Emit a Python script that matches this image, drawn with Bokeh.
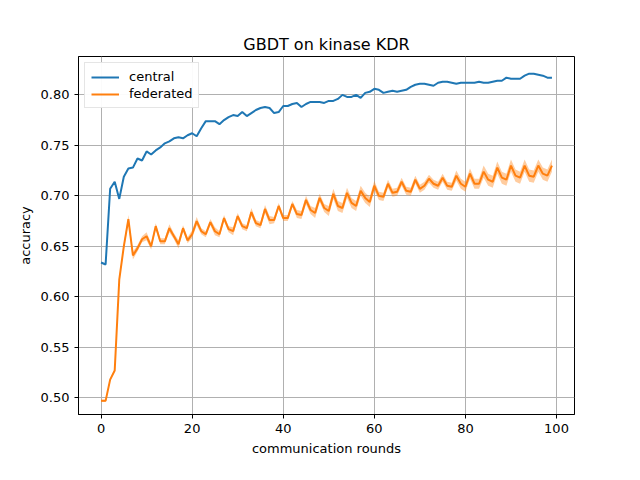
from bokeh.plotting import figure
from bokeh.models import Range1d, Legend, LegendItem, FixedTicker, CustomJSTickFormatter
from bokeh.embed import file_html
from bokeh.resources import INLINE

rounds = list(range(100))

central = [0.634, 0.632, 0.707, 0.714, 0.697, 0.719, 0.727, 0.728, 0.737, 0.735,
           0.744, 0.741, 0.745, 0.748, 0.752, 0.754, 0.757, 0.758, 0.757, 0.760,
           0.762, 0.759, 0.767, 0.774, 0.774, 0.774, 0.771, 0.775, 0.778, 0.780,
           0.779, 0.783, 0.779, 0.782, 0.785, 0.787, 0.788, 0.787, 0.782, 0.783,
           0.789, 0.789, 0.791, 0.792, 0.788, 0.791, 0.793, 0.793, 0.793, 0.792,
           0.794, 0.794, 0.796, 0.800, 0.798, 0.798, 0.800, 0.797, 0.802, 0.803,
           0.806, 0.805, 0.802, 0.803, 0.804, 0.803, 0.804, 0.805, 0.808, 0.810,
           0.811, 0.811, 0.810, 0.809, 0.812, 0.813, 0.813, 0.812, 0.811, 0.812,
           0.812, 0.812, 0.812, 0.813, 0.812, 0.812, 0.813, 0.814, 0.814, 0.817,
           0.816, 0.816, 0.816, 0.819, 0.821, 0.821, 0.820, 0.819, 0.817, 0.817]

federated = [0.497, 0.497, 0.518, 0.527, 0.617, 0.650, 0.677, 0.641, 0.648, 0.657,
             0.660, 0.650, 0.670, 0.655, 0.655, 0.668, 0.660, 0.652, 0.668, 0.656,
             0.662, 0.675, 0.665, 0.662, 0.674, 0.665, 0.662, 0.678, 0.667, 0.665,
             0.680, 0.670, 0.668, 0.684, 0.673, 0.671, 0.687, 0.676, 0.676, 0.690,
             0.678, 0.678, 0.692, 0.682, 0.681, 0.696, 0.686, 0.683, 0.698, 0.688,
             0.685, 0.702, 0.690, 0.688, 0.703, 0.693, 0.690, 0.705, 0.698, 0.694,
             0.710, 0.700, 0.699, 0.712, 0.703, 0.704, 0.714, 0.705, 0.704, 0.716,
             0.707, 0.710, 0.717, 0.712, 0.710, 0.718, 0.710, 0.709, 0.720, 0.712,
             0.709, 0.722, 0.712, 0.712, 0.724, 0.716, 0.714, 0.728, 0.718, 0.716,
             0.730, 0.720, 0.718, 0.730, 0.720, 0.719, 0.730, 0.722, 0.720, 0.730]

fed_std = [0.001, 0.001, 0.001, 0.001, 0.002, 0.003, 0.004, 0.004, 0.003, 0.003,
           0.004, 0.003, 0.003, 0.003, 0.003, 0.004, 0.003, 0.004, 0.003, 0.003,
           0.004, 0.004, 0.003, 0.003, 0.003, 0.004, 0.003, 0.003, 0.003, 0.004,
           0.003, 0.003, 0.003, 0.004, 0.003, 0.003, 0.004, 0.004, 0.003, 0.003,
           0.003, 0.003, 0.003, 0.004, 0.004, 0.004, 0.004, 0.005, 0.004, 0.004,
           0.005, 0.005, 0.005, 0.005, 0.005, 0.005, 0.005, 0.005, 0.005, 0.005,
           0.005, 0.004, 0.004, 0.004, 0.004, 0.004, 0.004, 0.004, 0.004, 0.004,
           0.004, 0.004, 0.004, 0.004, 0.004, 0.004, 0.004, 0.004, 0.005, 0.005,
           0.005, 0.005, 0.005, 0.005, 0.006, 0.006, 0.006, 0.006, 0.006, 0.006,
           0.006, 0.006, 0.006, 0.006, 0.006, 0.006, 0.006, 0.006, 0.006, 0.006]

fed_lo = [f - s for f, s in zip(federated, fed_std)]
fed_hi = [f + s for f, s in zip(federated, fed_std)]

p = figure(width=624, height=464, output_backend="svg", toolbar_location=None,
           x_range=Range1d(-4.95, 103.95), y_range=Range1d(0.4835, 0.838),
           title="GBDT on kinase KDR",
           min_border_left=78, min_border_right=50, min_border_top=56, min_border_bottom=50)

p.title.align = "center"
p.title.text_font = "DejaVu Sans"
p.title.text_font_size = "16px"
p.title.text_font_style = "normal"
p.title.text_color = "black"
p.title.standoff = 6

p.varea(x=rounds, y1=fed_lo, y2=fed_hi, fill_color="#ff7f0e", fill_alpha=0.4)
c = p.line(rounds, central, line_color="#1f77b4", line_width=2)
f = p.line(rounds, federated, line_color="#ff7f0e", line_width=2)

p.xaxis.ticker = FixedTicker(ticks=[0, 20, 40, 60, 80, 100])
p.yaxis.ticker = FixedTicker(ticks=[0.50, 0.55, 0.60, 0.65, 0.70, 0.75, 0.80])
p.yaxis.formatter = CustomJSTickFormatter(code="return tick.toFixed(2)")
p.xaxis.axis_label = "communication rounds"
p.yaxis.axis_label = "accuracy"
for ax in (p.xaxis, p.yaxis):
    ax.axis_label_text_font = "DejaVu Sans"
    ax.axis_label_text_font_size = "13px"
    ax.axis_label_text_font_style = "normal"
    ax.axis_label_text_color = "black"
    ax.major_label_text_font = "DejaVu Sans"
    ax.major_label_text_font_size = "13px"
    ax.major_label_text_color = "black"
    ax.minor_tick_line_color = None
    ax.major_tick_in = 0
    ax.major_tick_out = 4
    ax.axis_line_color = "black"
    ax.major_tick_line_color = "black"

p.grid.grid_line_color = "#b0b0b0"
p.grid.grid_line_width = 1
p.outline_line_color = "black"
p.outline_line_alpha = 1

legend = Legend(items=[LegendItem(label="central", renderers=[c]),
                       LegendItem(label="federated", renderers=[f])],
                location="top_left", border_line_color="#cccccc",
                label_text_font="DejaVu Sans", label_text_font_size="13px",
                label_text_color="black",
                glyph_width=28, glyph_height=14, spacing=2, padding=6, margin=6,
                label_standoff=10)
p.add_layout(legend)

open("out.html", "w").write(file_html(p, INLINE))
